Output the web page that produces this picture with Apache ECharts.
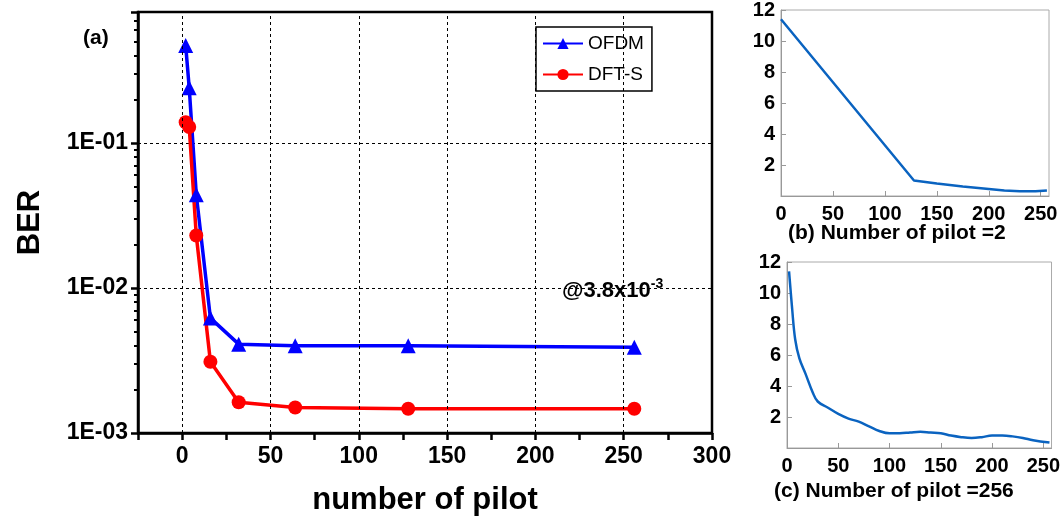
<!DOCTYPE html>
<html><head><meta charset="utf-8">
<script src="https://cdn.jsdelivr.net/npm/echarts@6/dist/echarts.min.js"></script>
<style>html,body{margin:0;padding:0;background:#fff}#c{width:1063px;height:521px}</style>
</head><body><div id="c"></div>
<script>
const pilots = [2, 4, 8, 16, 32, 64, 128, 256];
const ofdmBER = [0.47, 0.24, 0.044, 0.0062, 0.0041, 0.0040, 0.0040, 0.0039];
const dftsBER = [0.139, 0.129, 0.023, 0.0031, 0.00163, 0.00150, 0.00147, 0.00147];
const threshold = 0.0038;
const xGridTicks = [0, 50, 100, 150, 200, 250];
const bX = [0, 128, 150, 175, 200, 215, 230, 245, 256];
const bY = [11.4, 1.0, 0.8, 0.62, 0.45, 0.35, 0.3, 0.3, 0.35];
const cX = [2, 5, 8, 12, 18, 25, 30, 40, 50, 60, 70, 80, 90, 100, 110, 120, 130, 140, 150, 160, 170, 180, 190, 200, 210, 220, 230, 240, 256];
const cY = [11.4, 9, 7, 5.8, 4.8, 3.6, 3.0, 2.6, 2.2, 1.9, 1.7, 1.4, 1.1, 0.95, 0.95, 1.0, 1.05, 1.0, 0.95, 0.8, 0.7, 0.65, 0.7, 0.8, 0.8, 0.75, 0.65, 0.5, 0.35];

const F = 'Liberation Sans, Arial, sans-serif';
const zip = (a, b) => a.map((v, i) => [v, b[i]]);
const chart = echarts.init(document.getElementById('c'));
const smallX = (gi) => ({
  type: 'value', gridIndex: gi, min: 0, max: 258, interval: 50,
  axisLine: { show: true, onZero: false, lineStyle: { color: '#999', width: 1 } },
  axisTick: { show: true, inside: true, lineStyle: { color: '#999' } },
  axisLabel: { color: '#000', fontFamily: F, fontWeight: 'bold', fontSize: 20, margin: 8, showMaxLabel: false },
  splitLine: { show: false }
});
const smallY = (gi) => ({
  type: 'value', gridIndex: gi, min: 0, max: 12, interval: 2,
  axisLine: { show: true, onZero: false, lineStyle: { color: '#999', width: 1 } },
  axisTick: { show: true, inside: true, lineStyle: { color: '#999' } },
  axisLabel: { color: '#000', fontFamily: F, fontWeight: 'bold', fontSize: 20, margin: 6,
    formatter: v => v === 0 ? '' : String(v) },
  splitLine: { show: false }
});
chart.setOption({
  animation: false,
  grid: [
    { left: 138, top: 12, width: 574, height: 423, show: true, borderColor: '#000', borderWidth: 2.5 },
    { left: 781, top: 7, width: 268, height: 189, show: true, borderColor: '#aaa', borderWidth: 1 },
    { left: 787, top: 262, width: 273, height: 186, show: true, borderColor: '#aaa', borderWidth: 1 }
  ],
  legend: {
    data: ['OFDM', 'DFT-S'], orient: 'vertical', left: 536, top: 27,
    backgroundColor: '#fff', borderColor: '#000', borderWidth: 1.5, padding: [7, 8, 7, 6],
    itemWidth: 40, itemHeight: 14, itemGap: 12,
    textStyle: { fontFamily: F, fontSize: 19, color: '#000' }
  },
  xAxis: [
    { type: 'value', gridIndex: 0, min: -25, max: 300, interval: 25,
      axisLine: { show: true, onZero: false, lineStyle: { color: '#000', width: 2.5 } },
      axisTick: { show: true, length: 7, lineStyle: { color: '#000', width: 2.5 } },
      axisLabel: { color: '#000', fontFamily: F, fontWeight: 'bold', fontSize: 23, margin: 12,
        formatter: v => (v >= 0 && v % 50 === 0) ? String(v) : '' },
      splitLine: { show: false },
      name: 'number of pilot', nameLocation: 'middle', nameGap: 52,
      nameTextStyle: { color: '#000', fontFamily: F, fontWeight: 'bold', fontSize: 31 } },
    smallX(1), smallX(2)
  ],
  yAxis: [
    { type: 'log', gridIndex: 0, min: 0.001, max: 0.8, logBase: 10,
      axisLine: { show: true, onZero: false, lineStyle: { color: '#000', width: 2.5 } },
      axisTick: { show: true, length: 7, lineStyle: { color: '#000', width: 2.5 } },
      minorTick: { show: true, splitNumber: 9, length: 4, lineStyle: { color: '#000', width: 2 } },
      axisLabel: { color: '#000', fontFamily: F, fontWeight: 'bold', fontSize: 23, margin: 10,
        formatter: v => { const e = Math.round(Math.log10(v)); return (e >= -3 && e <= -1) ? '1E-0' + (-e) : ''; } },
      splitLine: { show: true, lineStyle: { color: '#000', type: [3, 3], width: 1 } },
      name: 'BER', nameLocation: 'middle', nameGap: 92, nameRotate: 90,
      nameTextStyle: { color: '#000', fontFamily: F, fontWeight: 'bold', fontSize: 31 } },
    smallY(1), smallY(2)
  ],
  series: [
    { name: 'grid', type: 'line', xAxisIndex: 0, yAxisIndex: 0, data: [[0, 0.01]], symbol: 'none',
      lineStyle: { opacity: 0 }, silent: true, z: 1,
      markLine: { symbol: 'none', silent: true, label: { show: false }, animation: false,
        lineStyle: { color: '#000', width: 1, type: [3, 3] },
        data: xGridTicks.map(v => ({ xAxis: v })) } },
    { name: 'OFDM', type: 'line', xAxisIndex: 0, yAxisIndex: 0, data: zip(pilots, ofdmBER),
      color: '#0000ff', lineStyle: { width: 3.5, color: '#0000ff' },
      symbol: 'triangle', symbolSize: 15, itemStyle: { color: '#0000ff' },
      markLine: { symbol: 'none', silent: true, label: { show: false },
        lineStyle: { color: '#000', width: 3.5, type: [14, 6, 3, 6] },
        data: [{ yAxis: threshold }] } },
    { name: 'DFT-S', type: 'line', xAxisIndex: 0, yAxisIndex: 0, data: zip(pilots, dftsBER),
      color: '#ff0000', lineStyle: { width: 3.5, color: '#ff0000' },
      symbol: 'circle', symbolSize: 14, itemStyle: { color: '#ff0000' } },
    { type: 'line', xAxisIndex: 1, yAxisIndex: 1, data: zip(bX, bY), symbol: 'none',
      lineStyle: { color: '#0a63c0', width: 2.5 } },
    { type: 'line', xAxisIndex: 2, yAxisIndex: 2, data: zip(cX, cY), symbol: 'none', smooth: 0.4,
      lineStyle: { color: '#0a63c0', width: 2.5 } }
  ],
  graphic: [
    { type: 'text', left: 83, top: 28, style: { text: '(a)', font: 'bold 21px ' + F, fill: '#000' } },
    { type: 'text', left: 562, top: 277, style: {
        text: '{a|@3.8x10}{s|-3}', fill: '#000',
        rich: { a: { font: 'bold 22px ' + F, fill: '#000' },
                s: { font: 'bold 14px ' + F, fill: '#000', padding: [0, 0, 14, 0] } } } },
    { type: 'text', left: 788, top: 223, style: { text: '(b) Number of pilot =2', font: 'bold 21px ' + F, fill: '#000' } },
    { type: 'text', left: 774, top: 481, style: { text: '(c) Number of pilot =256', font: 'bold 21px ' + F, fill: '#000' } }
  ]
});
</script></body></html>
